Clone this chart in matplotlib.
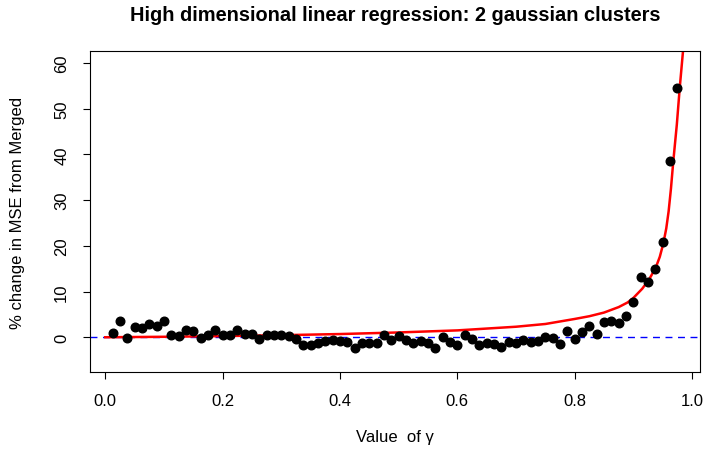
import matplotlib
matplotlib.use("Agg")
import matplotlib.pyplot as plt
import numpy as np

plt.rcParams['font.family'] = ['Liberation Sans', 'DejaVu Sans']

# gamma grid of the simulation (step 0.0125)
gamma = np.round(np.arange(1, 79) * 0.0125, 4)

pct_change = [
    1.0, 3.5, -0.2, 2.3, 2.1, 3.0, 2.5, 3.6, 0.4, 0.3,
    1.6, 1.4, -0.1, 0.4, 1.6, 0.6, 0.6, 1.5, 0.8, 0.7,
    -0.3, 0.6, 0.4, 0.4, 0.3, -0.3, -1.8, -1.6, -1.2, -0.9,
    -0.5, -0.8, -1.1, -2.4, -1.3, -1.3, -1.3, 0.4, -0.7, 0.2,
    -0.7, -1.3, -0.9, -1.3, -2.4, 0.0, -1.1, -1.8, 0.5, -0.4,
    -1.7, -1.3, -1.5, -2.1, -1.1, -1.3, -0.5, -1.1, -0.8, 0.0,
    -0.2, -1.5, 1.3, -0.4, 1.2, 2.4, 0.7, 3.3, 3.5, 3.2,
    4.6, 7.6, 13.2, 12.1, 15.0, 20.8, 38.6, 54.6,
]

# theoretical curve
curve_gamma = [0.0, 0.1, 0.2, 0.3, 0.4, 0.5, 0.6, 0.7, 0.75, 0.8,
               0.825, 0.85, 0.875, 0.89, 0.9, 0.915, 0.927, 0.938, 0.945,
               0.951, 0.956, 0.96, 0.964, 0.968, 0.974, 0.979, 0.9845, 0.99]
curve_pct = [0.0, 0.1, 0.25, 0.45, 0.7, 1.05, 1.5, 2.3, 2.9, 4.0,
             4.6, 5.4, 6.6, 7.6, 8.6, 10.6, 12.7, 15.2, 17.6,
             20.5, 23.8, 27.5, 32.5, 38.5, 46.5, 54.6, 62.5, 72.0]

fig = plt.figure(figsize=(7.04, 4.52), dpi=100)
ax = fig.add_axes([90 / 704, 1 - 373 / 452, 610 / 704, 321 / 452])

ax.axhline(0, color='#0000ff', lw=1.0, ls=(0, (5, 4)), zorder=1)
ax.plot(curve_gamma, curve_pct, color='red', lw=1.8, zorder=2)
ax.plot(gamma, pct_change, 'o', color='black', ms=6.2, zorder=3)

ax.set_xlim(-0.026, 1.0135)
ax.set_ylim(-7.6, 62.6)
ax.set_xticks([0.0, 0.2, 0.4, 0.6, 0.8, 1.0])
ax.set_xticklabels(['0.0', '0.2', '0.4', '0.6', '0.8', '1.0'])
ax.set_yticks([0, 10, 20, 30, 40, 50, 60])
ax.tick_params(axis='both', direction='out', length=5, width=0.8,
               labelsize=12)
ax.tick_params(axis='x', pad=10)
ax.tick_params(axis='y', pad=10)
for lbl in ax.get_yticklabels():
    lbl.set_rotation(90)
    lbl.set_va('center')
for s in ax.spines.values():
    s.set_linewidth(0.8)

ax.set_xlabel('Value  of γ', fontsize=12, va='center')
ax.xaxis.set_label_coords(0.5, (373 - 438) / 321)
ax.set_ylabel('% change in MSE from Merged', fontsize=12, va='center')
ax.yaxis.set_label_coords((18 - 90) / 610, 0.5)
ax.set_title('High dimensional linear regression: 2 gaussian clusters',
             fontsize=14.4, fontweight='bold', va='center',
             y=1 + (51 - 14) / 321, pad=0)

fig.savefig('out.png', dpi=100)
